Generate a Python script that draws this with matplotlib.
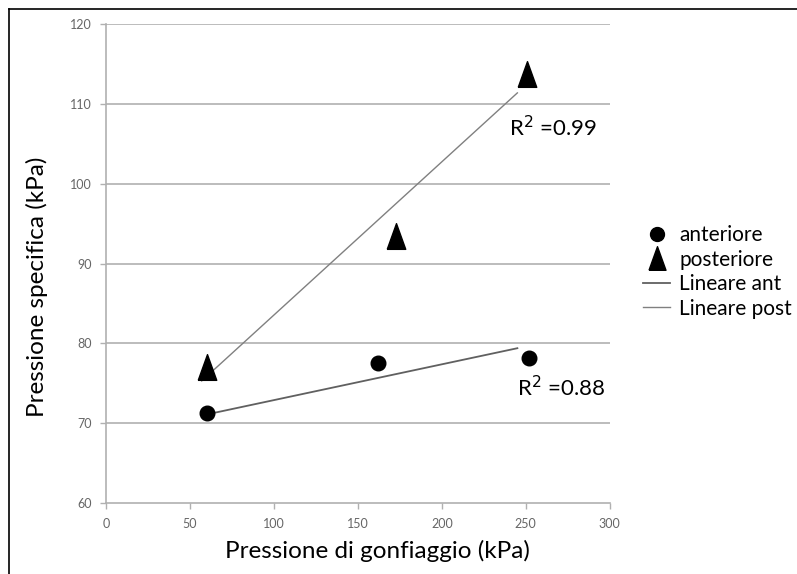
import matplotlib
matplotlib.use("Agg")
import matplotlib.pyplot as plt
from matplotlib.lines import Line2D

plt.rcParams['font.family'] = ['Lato', 'DejaVu Sans']

# data
ant_x = [60, 162, 252]
ant_y = [71.3, 77.5, 78.2]
post_x = [60, 173, 251]
post_y = [77.0, 93.5, 113.8]
# trend line endpoints
trend_ant_x = [60, 245]
trend_ant_y = [71.1, 79.4]
trend_post_x = [57, 245]
trend_post_y = [75.3, 111.4]
xticks = [0, 50, 100, 150, 200, 250, 300]
yticks = [60, 70, 80, 90, 100, 110, 120]

tri = [(-0.36, -0.5), (0.36, -0.5), (0.0, 0.5), (-0.36, -0.5)]
ell = 'o'

fig = plt.figure(figsize=(7.97, 5.74), dpi=100)
W, H = 797, 574
ax = fig.add_axes([0.133, 0.1237, 0.632, 0.834])

for yv in yticks[1:]:
    ax.axhline(yv, color='#b0b0b0', lw=1.2, zorder=0)

ax.plot(trend_ant_x, trend_ant_y, color='#606060', lw=1.3, zorder=2)
ax.plot(trend_post_x, trend_post_y, color='#808080', lw=1.0, zorder=2)
ax.plot(ant_x, ant_y, ell, color='black', ms=10.5, zorder=3)
ax.plot(post_x, post_y, marker=tri, ls='none', color='black', ms=18.5,
        mew=1, zorder=3)

ax.text(240, 107.1, 'R$^2$ =0.99', fontsize=16, va='center', ha='left')
ax.text(244.5, 74.5, 'R$^2$ =0.88', fontsize=16, va='center', ha='left')

ax.set_xlim(0, 300)
ax.set_ylim(60, 120)
ax.set_xticks(xticks)
ax.set_yticks(yticks)
ax.tick_params(axis='both', colors='#b0b0b0', labelcolor='#666666', labelsize=9,
               length=4, width=1)
ax.tick_params(axis='x', pad=7)
ax.tick_params(axis='y', pad=6)
for s in ['top', 'right']:
    ax.spines[s].set_visible(False)
for s in ['left', 'bottom']:
    ax.spines[s].set_color('#b0b0b0')
    ax.spines[s].set_linewidth(1.2)

fig.text(377 / W, 1 - 551 / H, 'Pressione di gonfiaggio (kPa)', fontsize=17.5,
         ha='center', va='center')
fig.text(37 / W, 1 - 287 / H, 'Pressione specifica (kPa)', fontsize=17.5,
         ha='center', va='center', rotation=90)

handles = [
    Line2D([], [], marker='o', color='black', ls='none', ms=10),
    Line2D([], [], marker=tri, color='black', ls='none', ms=17),
    Line2D([], [], color='#606060', lw=1.3),
    Line2D([], [], color='#808080', lw=1.0),
]
labels = ['anteriore', 'posteriore', 'Lineare ant', 'Lineare post']
fig.legend(handles, labels, loc='upper left', bbox_to_anchor=(643 / W, 1 - 225 / H),
           frameon=False, fontsize=15, handlelength=1.3, handletextpad=0.45,
           labelspacing=0.22, borderpad=0, borderaxespad=0)

# figure border (top and left)
fig.add_artist(Line2D([0.0113, 1.0], [0.984, 0.984], color='black', lw=1.2,
                      transform=fig.transFigure))
fig.add_artist(Line2D([0.0113, 0.0113], [0.0, 0.984], color='black', lw=1.2,
                      transform=fig.transFigure))

fig.savefig('out.png', dpi=100)
